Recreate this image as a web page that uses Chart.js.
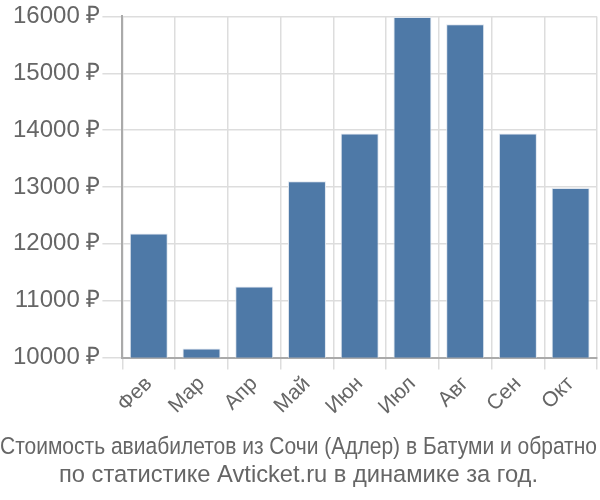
<!DOCTYPE html>
<html>
<head>
<meta charset="utf-8">
<script src="https://cdn.jsdelivr.net/npm/chart.js@4/dist/chart.umd.min.js"></script>
<style>
    html, body { margin: 0; padding: 0; background: #ffffff; }
    #wrap { width: 600px; height: 500px; }
</style>
</head>
<body>
<div id="wrap"><canvas id="priceChart"></canvas></div>
<script>
const months = ["Фев", "Мар", "Апр", "Май", "Июн", "Июл", "Авг", "Сен", "Окт"];
const prices = [12180, 10160, 11250, 13100, 13940, 15990, 15860, 13940, 12980];
const titleLines = [
    "Стоимость авиабилетов из Сочи (Адлер) в Батуми и обратно",
    "по статистике Avticket.ru в динамике за год."
];

const ctx = document.getElementById("priceChart").getContext("2d");

new Chart(ctx, {
    type: "bar",
    data: {
        labels: months,
        datasets: [{
            data: prices,
            backgroundColor: "#4e79a7",
            borderColor: "#dfe6ef",
            borderWidth: 1
        }]
    },
    options: {
        responsive: true,
        maintainAspectRatio: false,
        animation: false,
        layout: { padding: { left: 0, right: 3, top: 3, bottom: 0 } },
        plugins: {
            legend: { display: false },
            tooltip: { enabled: false },
            title: {
                display: true,
                position: "bottom",
                text: titleLines,
                color: "#666666",
                font: { family: "Liberation Sans", size: 23.7, weight: "normal", lineHeight: 1.17 },
                padding: { top: 12, bottom: 11 }
            }
        },
        scales: {
            x: {
                grid: { color: "#dddddd", lineWidth: 1.5, tickLength: 12 },
                border: { color: "#aaaaaa", width: 2 },
                ticks: {
                    color: "#666666",
                    font: { family: "Liberation Sans", size: 21 },
                    maxRotation: 45,
                    minRotation: 45,
                    padding: 2
                }
            },
            y: {
                min: 10000,
                max: 16000,
                afterFit: scale => { scale.width += 11; },
                grid: { color: "#dddddd", lineWidth: 1.5, tickLength: 20 },
                border: { color: "#aaaaaa", width: 2 },
                ticks: {
                    stepSize: 1000,
                    color: "#666666",
                    font: { family: "Liberation Sans", size: 24 },
                    padding: 2,
                    callback: v => v + " ₽"
                }
            }
        }
    }
});
</script>
</body>
</html>
